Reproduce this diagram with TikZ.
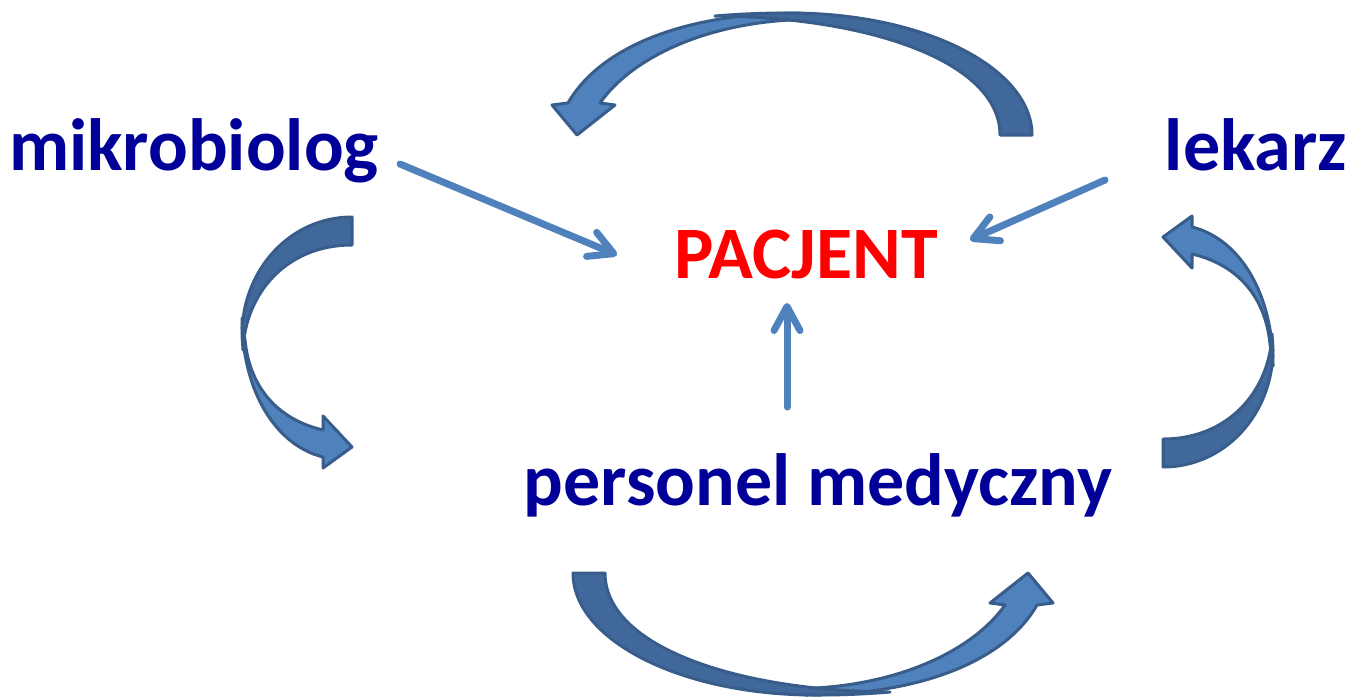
\documentclass[tikz,border=0pt]{standalone}
\usepackage{fontspec}
\setmainfont{Carlito}
\usetikzlibrary{arrows.meta}
\definecolor{txtblue}{RGB}{0,0,153}
\definecolor{arlight}{RGB}{79,129,189}
\definecolor{ardark}{RGB}{64,104,154}
\definecolor{arline}{RGB}{56,93,138}
\tikzset{
  lbl/.style={font=\fontsize{37}{41}\selectfont\bfseries, text=txtblue, inner sep=0pt, anchor=base},
  patient/.style={lbl, text=red},
  thinarrow/.style={draw=arlight, line width=3.5pt, line cap=round,
    -{Straight Barb[length=12pt,width=13pt,round]}},
  lightpart/.style={fill=arlight, draw=arline, line width=1.5pt, line join=round},
  darkpart/.style={fill=ardark, draw=arline, line width=1.5pt, line join=round}
}
\begin{document}
\begin{tikzpicture}[x=0.5pt,y=-0.5pt]
\useasboundingbox (0,0) rectangle (1353,697);
\fill[white] (0,0) rectangle (1353,697);

% text nodes
\node[lbl] (mikro) at (194,170) {mikrobiolog};
\node[lbl] (lekarz) at (1256,170) {lekarz};
\node[patient] (pacjent) at (806,278) {PACJENT};
\node[lbl] (personel) at (818,505) {personel medyczny};

% connector end points
\coordinate (m0) at (400,164);
\coordinate (m1) at (617,255);
\coordinate (l0) at (1105,180);
\coordinate (l1) at (970,240);
\coordinate (p0) at (787,407);
\coordinate (p1) at (787,303);

\draw[thinarrow] (m0) -- (m1);
\draw[thinarrow] (l0) -- (l1);
\draw[thinarrow] (p0) -- (p1);

% top curved arrow (and bottom one as its 180 degree rotation)
\foreach \rot/\cx/\cy in {0/802.5/354, 180/802.5/354}{
  \begin{scope}[rotate around={\rot:(\cx,\cy)}]
    \draw[lightpart] (800,13) .. controls (675,13) and (597,52) .. (568,103)
      -- (552,105) -- (577,135) -- (615,105) -- (600,103)
      .. controls (630,60) and (700,25) .. (790,20) -- cycle;
    \draw[darkpart] (1032,135) .. controls (1032,68) and (924,13) .. (790,13)
      .. controls (760,13) and (740,14) .. (715,16)
      .. controls (870,17) and (1000,62) .. (1000,135) -- cycle;
  \end{scope}
}

% left curved arrow (and right one as its 180 degree rotation)
\foreach \rot/\cx/\cy in {0/757.5/342, 180/757.5/342}{
  \begin{scope}[rotate around={\rot:(\cx,\cy)}]
    \draw[lightpart] (242,318) .. controls (242,390) and (275,445) .. (323,457)
      -- (323,468) -- (352,447) -- (323,416) -- (323,430)
      .. controls (280,420) and (250,390) .. (245,340) -- cycle;
    \draw[darkpart] (352,217) .. controls (290,217) and (242,270) .. (242,335)
      -- (243,350) .. controls (245,295) and (285,245) .. (352,245) -- cycle;
  \end{scope}
}
\end{tikzpicture}
\end{document}
